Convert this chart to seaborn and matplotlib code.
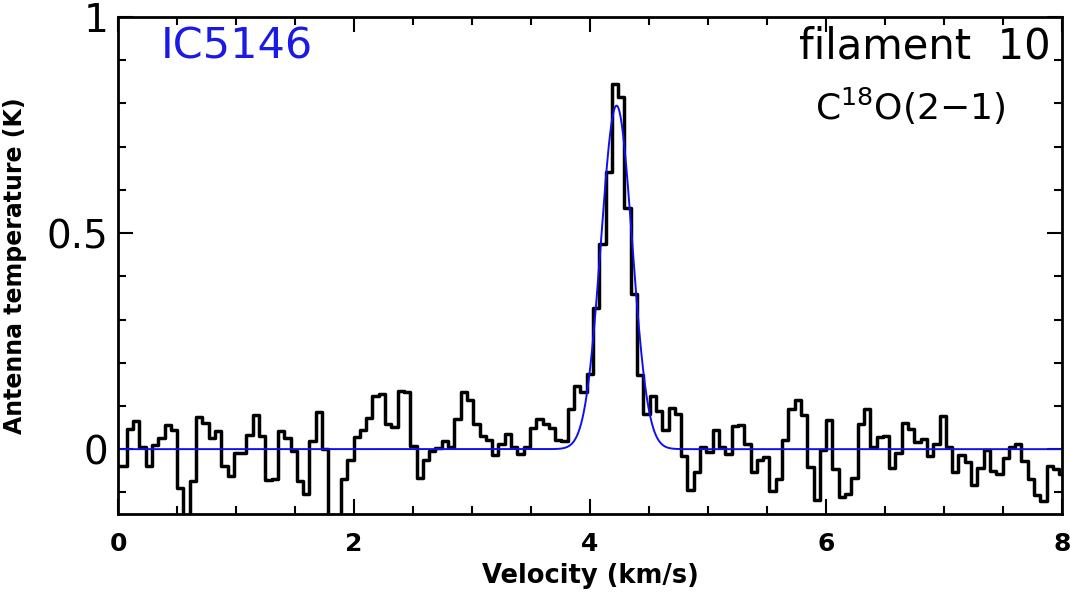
import numpy as np
import pandas as pd
import matplotlib
matplotlib.use("Agg")
import matplotlib.pyplot as plt
import seaborn as sns
from matplotlib.ticker import MultipleLocator

# ---------------------------
# DATA
# ---------------------------
# channel grid: first channel centre and channel width (km/s)
v_start = -0.0064
dv = 0.0534

# antenna temperature per channel (K)
t_mb = [
    -0.039, -0.039, 0.046, 0.064, 0.005, -0.039, 0.010, 0.025, 0.056, 0.045,
    -0.089, -0.200, -0.073, 0.075, 0.060, 0.025, 0.043, -0.039, -0.062, -0.008,
    -0.008, 0.033, 0.078, 0.031, -0.072, -0.070, 0.041, 0.025, -0.004, -0.074,
    -0.103, 0.019, 0.087, 0.001, -0.200, -0.200, -0.068, -0.025, 0.027, 0.044,
    0.073, 0.123, 0.127, 0.058, 0.052, 0.135, 0.133, 0.008, -0.067, -0.026,
    -0.005, 0.002, 0.018, 0.006, 0.069, 0.133, 0.113, 0.059, 0.031, 0.022,
    -0.013, 0.012, 0.036, 0.005, -0.012, 0.005, 0.050, 0.069, 0.059, 0.050,
    0.021, 0.018, 0.093, 0.147, 0.133, 0.175, 0.326, 0.475, 0.642, 0.846,
    0.816, 0.559, 0.359, 0.172, 0.082, 0.122, 0.089, 0.044, 0.096, 0.082,
    -0.016, -0.095, -0.054, 0.004, -0.006, 0.044, 0.005, -0.012, 0.054, 0.056,
    0.013, -0.054, -0.025, -0.018, -0.097, -0.069, 0.021, 0.093, 0.113, 0.079,
    -0.041, -0.118, -0.002, 0.067, -0.046, -0.110, -0.104, -0.066, 0.059, 0.093,
    0.005, 0.027, 0.031, -0.044, -0.010, 0.060, 0.046, 0.017, 0.023, -0.016,
    0.012, 0.077, 0.004, -0.054, -0.013, -0.029, -0.083, -0.044, -0.002, -0.051,
    -0.058, -0.021, 0.004, 0.013, -0.027, -0.069, -0.106, -0.121, -0.039, -0.045,
    -0.058,
]

# gaussian fit parameters
fit_amp = 0.795
fit_center = 4.225
fit_fwhm = 0.31

source_name = "IC5146"
region_name = "filament  10"
line_name = "C$^{18}$O(2$-$1)"

# ---------------------------
# BUILD TABLES
# ---------------------------
velocity = v_start + dv * np.arange(len(t_mb))
spec = pd.DataFrame({"v": velocity, "T": t_mb})

v_fine = np.linspace(0, 8, 1601)
sigma = fit_fwhm / (2 * np.sqrt(2 * np.log(2)))
fit = pd.DataFrame({"v": v_fine,
                    "T": fit_amp * np.exp(-0.5 * ((v_fine - fit_center) / sigma) ** 2)})

# ---------------------------
# PLOT
# ---------------------------
sns.set_theme(style="ticks")
plt.rcParams["font.family"] = ["DejaVu Sans"]
plt.rcParams["text.color"] = "black"
plt.rcParams["axes.labelcolor"] = "black"
plt.rcParams["xtick.color"] = "black"
plt.rcParams["ytick.color"] = "black"
plt.rcParams["mathtext.default"] = "regular"

fig = plt.figure(figsize=(10.7, 5.92), dpi=100)
ax = fig.add_axes([0.1103, 0.1318, 0.8822, 0.8395])

sns.lineplot(data=spec, x="v", y="T", ax=ax, color="black", linewidth=2.5,
             drawstyle="steps-mid", estimator=None, sort=False)
sns.lineplot(data=fit, x="v", y="T", ax=ax, color="#1010ee", linewidth=1.4,
             estimator=None, sort=False)

ax.set_xlim(0, 8)
ax.set_ylim(-0.15, 1.0)

ax.xaxis.set_major_locator(MultipleLocator(2))
ax.xaxis.set_minor_locator(MultipleLocator(0.5))
ax.yaxis.set_major_locator(MultipleLocator(0.5))
ax.yaxis.set_minor_locator(MultipleLocator(0.1))
ax.set_yticks([0, 0.5, 1])
ax.set_yticklabels(["0", "0.5", "1"])

ax.tick_params(which="both", direction="in", top=True, right=True, width=1.5, color="black")
ax.tick_params(which="major", length=11)
ax.tick_params(which="minor", length=5.5)
ax.tick_params(axis="x", labelsize=18, pad=13)
ax.tick_params(axis="y", labelsize=28, pad=7)
for lab in ax.get_xticklabels():
    lab.set_fontweight("bold")

for s in ax.spines.values():
    s.set_linewidth(2)
    s.set_color("black")

ax.set_xlabel("Velocity (km/s)", fontsize=18.5, fontweight="bold", labelpad=5)
ax.set_ylabel("Antenna temperature (K)", fontsize=17, fontweight="bold", labelpad=14)

ax.text(0.045, 0.982, source_name, transform=ax.transAxes, color="#1a1ae6",
        fontsize=31, ha="left", va="top")
ax.text(0.988, 0.982, region_name, transform=ax.transAxes, color="black",
        fontsize=30, ha="right", va="top")
ax.text(0.94, 0.82, line_name, transform=ax.transAxes, color="black",
        fontsize=26, ha="right", va="center")

fig.savefig("out.png", dpi=100)
